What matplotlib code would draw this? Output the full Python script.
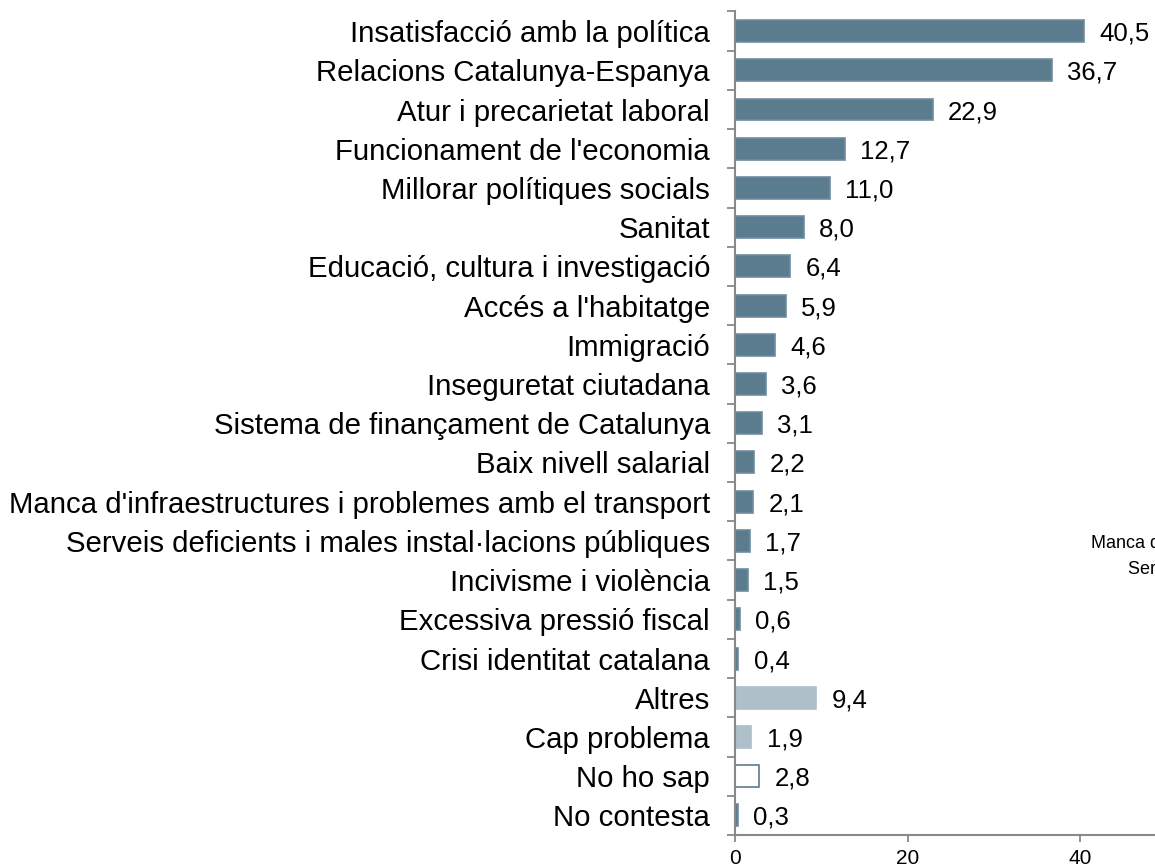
import numpy as np
import matplotlib
matplotlib.use("Agg")
import matplotlib.pyplot as plt

plt.rcParams["font.family"] = ["Liberation Sans", "DejaVu Sans"]

categories = [
    "Insatisfacció amb la política",
    "Relacions Catalunya-Espanya",
    "Atur i precarietat laboral",
    "Funcionament de l'economia",
    "Millorar polítiques socials",
    "Sanitat",
    "Educació, cultura i investigació",
    "Accés a l'habitatge",
    "Immigració",
    "Inseguretat ciutadana",
    "Sistema de finançament de Catalunya",
    "Baix nivell salarial",
    "Manca d'infraestructures i problemes amb el transport",
    "Serveis deficients i males instal·lacions públiques",
    "Incivisme i violència",
    "Excessiva pressió fiscal",
    "Crisi identitat catalana",
    "Altres",
    "Cap problema",
    "No ho sap",
    "No contesta",
]
values = [40.5, 36.7, 22.9, 12.7, 11.0, 8.0, 6.4, 5.9, 4.6, 3.6, 3.1, 2.2, 2.1,
          1.7, 1.5, 0.6, 0.4, 9.4, 1.9, 2.8, 0.3]
groups = ["main"] * 17 + ["other", "other", "nsap", "main"]
x_ticks = [0, 20, 40]

dark = "#5B7C8F"
light = "#AEBFCA"
face = {"main": dark, "other": light, "nsap": "white"}
edge = {"main": "#6F8C9D", "other": light, "nsap": dark}

fig = plt.figure(figsize=(11.55, 8.68), dpi=100)
ax = fig.add_axes([0.6364, 0.038, 0.3734, 0.9488])

y = np.arange(len(categories))
for i, (v, g) in enumerate(zip(values, groups)):
    ax.barh(y[i], v, height=0.56, color=face[g], edgecolor=edge[g], linewidth=1.2)
    ax.annotate(f"{v:.1f}".replace(".", ","), (v, y[i]), xytext=(11, 0),
                textcoords="offset points", va="center_baseline", ha="left",
                fontsize=18.5)

ax.set_ylim(len(categories) - 0.5, -0.5)
ax.set_xlim(0, 50)
ax.set_yticks(y)
ax.set_yticklabels(categories, fontsize=21.2)
ax.set_yticks(np.arange(-0.5, len(categories) + 0.5, 1), minor=True)
ax.tick_params(axis="y", which="major", length=0, pad=18)
ax.tick_params(axis="y", which="minor", length=6, width=1.3, color="#888888")
ax.set_xticks(x_ticks)
ax.tick_params(axis="x", length=5, width=1.3, color="#888888", labelsize=15, pad=5)

for s in ["top", "right"]:
    ax.spines[s].set_visible(False)
for s in ["left", "bottom"]:
    ax.spines[s].set_color("#888888")
    ax.spines[s].set_linewidth(1.5)

# stray labels clipped at the right edge, as in the original
fig.text(1091 / 1155, 1 - 543 / 868, "Manca d'infraestructures i problemes amb el transport",
         fontsize=13, va="center", ha="left")
fig.text(1128 / 1155, 1 - 569 / 868, "Serveis deficients i males instal·lacions públiques",
         fontsize=13, va="center", ha="left")

fig.savefig("out.png", dpi=100)
